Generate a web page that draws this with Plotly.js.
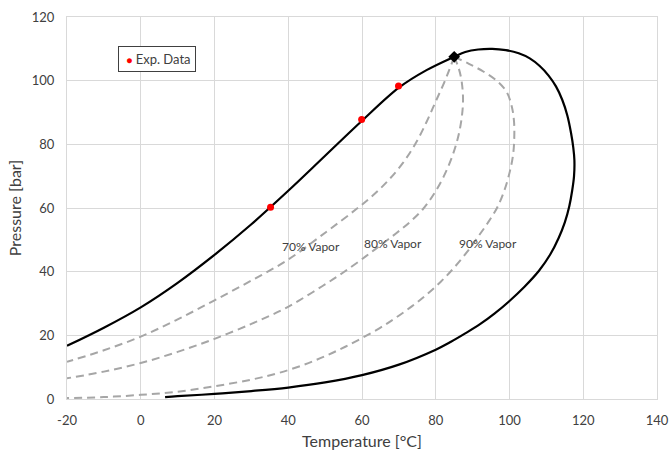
<!DOCTYPE html>
<html>
<head>
<meta charset="utf-8">
<script src="https://cdn.plot.ly/plotly-3.0.1.min.js"></script>
<style>html,body{margin:0;padding:0;background:#fff;}#chart{width:669px;height:451px;}</style>
</head>
<body>
<div id="chart"></div>
<script>
// Phase envelope: bubble branch (up to critical point) then dew branch
const envelopeT = [-20, -10, 0, 10, 20, 30, 40, 50, 60, 70, 77.5, 85,
  88, 91.5, 95.3, 99, 102.5, 105.5, 108.2, 110.6, 112.6, 114.3, 115.7, 116.7, 117.3, 117.6,
  117.5, 117, 116.2, 115, 113.3, 111, 108, 104, 100, 96, 92, 88, 84, 80, 70, 60, 50, 40, 30, 20, 10, 6.6];
const envelopeP = [16.7, 22.4, 28.8, 36.5, 45.3, 54.9, 65.4, 76.4, 87.4, 97.8, 103.3, 107.5,
  109, 109.8, 110, 109.6, 108.6, 107, 104.6, 101.6, 98.2, 94, 89, 83.5, 79, 75,
  70, 65.5, 60.5, 55.5, 50.5, 45.3, 40.3, 35.2, 30.8, 26.9, 23.5, 20.6, 17.9, 15.5, 10.8, 7.5, 5.2, 3.6, 2.5, 1.6, 0.9, 0.6];

// Quality lines
const v70T = [85, 82.5, 80, 77.5, 74.6, 71, 67, 63, 58.3, 50.2, 40, 30, 20, 10, 0, -10, -20];
const v70P = [107.5, 100, 93.5, 87, 80.4, 74, 68.5, 64, 59.5, 52.4, 43.8, 37.2, 31, 25, 19.6, 15.3, 11.7];
const v80T = [85, 86.2, 87, 87.4, 87, 86, 84.4, 82.2, 79.5, 76.5, 73, 69.2, 65, 61, 55, 49.3, 43, 37.5, 30, 20, 10, 0, -10, -20];
const v80P = [107.5, 104, 100, 94, 88, 82, 76, 70, 64.4, 59.6, 55.6, 52, 48.3, 44.8, 39.8, 35.5, 31, 27.5, 23.6, 18.9, 14.8, 11.3, 8.6, 6.5];
const v90T = [85, 89, 93, 96.5, 99.2, 100.6, 101.2, 101.3, 101, 100.1, 98.6, 96.6, 94.2, 91.5, 88.5, 85, 81.5, 77.5, 73.5, 69, 64.7, 55.6, 46.6, 37.5, 30, 20, 10, 0, -10, -20];
const v90P = [107.5, 105.3, 102.8, 100, 96.5, 92, 87.5, 82.5, 77, 71.5, 65.5, 60, 55.5, 51, 46.2, 41.3, 37, 32.8, 29.1, 25.4, 22.2, 16.5, 11.8, 8.2, 6.1, 4, 2.3, 1.3, 0.6, 0.3];

// Experimental data and critical point
const expT = [35.2, 59.9, 69.9];
const expP = [60.2, 87.8, 98.3];
const critT = [85];
const critP = [107.5];

const labels = ['70% Vapor', '80% Vapor', '90% Vapor'];
const labelT = [46.3, 68.3, 94.2];
const labelP = [48, 49, 49];

const xTicks = [-20, 0, 20, 40, 60, 80, 100, 120, 140];
const yTicks = [0, 20, 40, 60, 80, 100, 120];

const dashStyle = {color: '#A6A6A6', width: 2, dash: '8px,5px', shape: 'spline', smoothing: 1};

const traces = [
  {x: v70T, y: v70P, mode: 'lines', line: dashStyle, showlegend: false, hoverinfo: 'skip'},
  {x: v80T, y: v80P, mode: 'lines', line: dashStyle, showlegend: false, hoverinfo: 'skip'},
  {x: v90T, y: v90P, mode: 'lines', line: dashStyle, showlegend: false, hoverinfo: 'skip'},
  {x: envelopeT, y: envelopeP, mode: 'lines', line: {color: '#000000', width: 2.2, shape: 'spline', smoothing: 1}, showlegend: false},
  {x: expT, y: expP, mode: 'markers', name: 'Exp. Data', marker: {color: '#FF0000', size: 7}, showlegend: false},
  {x: critT, y: critP, mode: 'markers', marker: {color: '#000000', size: 9, symbol: 'diamond'}, showlegend: false}
];

const annotations = labels.map((t, i) => ({
  x: labelT[i], y: labelP[i], xref: 'x', yref: 'y', text: t, showarrow: false,
  font: {family: 'Lato, sans-serif', size: 12, color: '#404040'}
}));
annotations.push({
  xref: 'paper', yref: 'paper', x: 0.0865, y: 0.923, xanchor: 'left', yanchor: 'top',
  text: '&nbsp;<span style="color:#FF0000;font-size:10px">●</span> Exp. Data',
  showarrow: false, bordercolor: '#404040', borderwidth: 1, borderpad: 4, bgcolor: '#FFFFFF',
  font: {family: 'Lato, sans-serif', size: 13, color: '#404040'}
});

const axisCommon = {
  showgrid: true, gridcolor: '#D9D9D9', gridwidth: 1, zeroline: false,
  showline: true, linecolor: '#D9D9D9', linewidth: 1, mirror: true,
  ticks: 'outside', tickcolor: 'rgba(0,0,0,0)',
  tickfont: {family: 'Lato, sans-serif', size: 13, color: '#404040'}
};

const layout = {
  width: 669, height: 451,
  margin: {l: 67, r: 12, t: 17, b: 52},
  paper_bgcolor: '#FFFFFF', plot_bgcolor: '#FFFFFF',
  font: {family: 'Lato, sans-serif', color: '#404040'},
  xaxis: Object.assign({}, axisCommon, {
    range: [-20, 140], tickvals: xTicks, ticktext: xTicks.map(String), ticklen: 9,
    title: {text: 'Temperature [°C]', font: {family: 'Lato, sans-serif', size: 16, color: '#404040'}, standoff: 9}
  }),
  yaxis: Object.assign({}, axisCommon, {
    range: [0, 120], tickvals: yTicks, ticktext: yTicks.map(String), ticklen: 9,
    title: {text: 'Pressure [bar]', font: {family: 'Lato, sans-serif', size: 16, color: '#404040'}, standoff: 6}
  }),
  annotations: annotations,
  showlegend: false
};

Plotly.newPlot('chart', traces, layout, {displayModeBar: false, staticPlot: true});
</script>
</body>
</html>
